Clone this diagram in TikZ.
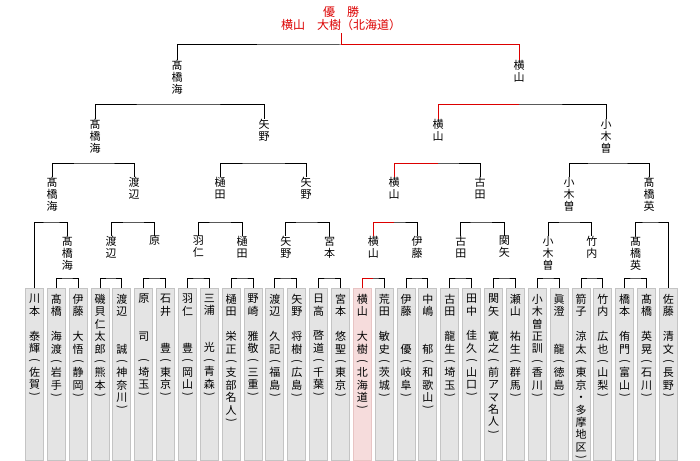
\documentclass[tikz,border=0pt]{standalone}
\usepackage{graphicx}
\usepackage{fontspec}
\setmainfont{Noto Sans CJK JP}
\usetikzlibrary{positioning}
\definecolor{winred}{RGB}{220,0,0}
\definecolor{boxfill}{RGB}{228,228,228}
\definecolor{boxline}{RGB}{196,196,196}
\definecolor{winfill}{RGB}{246,220,220}
\definecolor{winline}{RGB}{232,196,196}
\newcommand{\po}{\\[-1pt]\rotatebox[origin=c]{-90}{(}\\}
\newcommand{\pc}{\\[-3pt]\rotatebox[origin=c]{-90}{)}}

\begin{document}
\begin{tikzpicture}[x=1pt,y=-1pt,
    every node/.style={inner sep=0pt},
    player/.style={draw=boxline, fill=boxfill, line width=1pt, minimum width=18pt,
      minimum height=172pt, anchor=north},
    winner/.style={player, draw=winline, fill=winfill},
    vname/.style={align=center, font=\fontsize{11}{12.4}\selectfont},
    lbl/.style={align=center, anchor=north, font=\fontsize{11}{12}\selectfont},
    line/.style={line width=1pt},
    redline/.style={line width=1pt, draw=winred}]
  \useasboundingbox (0,0) rectangle (700,460);
  \coordinate (lv0) at (0,45);  \coordinate (lv4) at (0,104);
  \coordinate (lv3) at (0,163); \coordinate (lv2) at (0,222);
  \coordinate (lv1) at (0,278);

  % players
  \foreach \i/\s/\t in {
      0/player/{川\\本\\　\\泰\\輝\po 佐\\賀\pc},
      1/player/{髙\\橋\\　\\海\\渡\po 岩\\手\pc},
      2/player/{伊\\藤\\　\\大\\悟\po 静\\岡\pc},
      3/player/{磯\\貝\\仁\\太\\郎\po 熊\\本\pc},
      4/player/{渡\\辺\\　\\　\\誠\po 神\\奈\\川\pc},
      5/player/{原\\　\\　\\司\\　\po 埼\\玉\pc},
      6/player/{石\\井\\　\\　\\豊\po 東\\京\pc},
      7/player/{羽\\仁\\　\\　\\豊\po 岡\\山\pc},
      8/player/{三\\浦\\　\\　\\光\po 青\\森\pc},
      9/player/{樋\\田\\　\\栄\\正\po 支\\部\\名\\人\pc},
      10/player/{野\\崎\\　\\雅\\敬\po 三\\重\pc},
      11/player/{渡\\辺\\　\\久\\記\po 福\\島\pc},
      12/player/{矢\\野\\　\\将\\樹\po 広\\島\pc},
      13/player/{日\\高\\　\\啓\\道\po 千\\葉\pc},
      14/player/{宮\\本\\　\\悠\\聖\po 東\\京\pc},
      15/winner/{横\\山\\　\\大\\樹\po 北\\海\\道\pc},
      16/player/{荒\\田\\　\\敏\\史\po 茨\\城\pc},
      17/player/{伊\\藤\\　\\　\\優\po 岐\\阜\pc},
      18/player/{中\\嶋\\　\\　\\郁\po 和\\歌\\山\pc},
      19/player/{古\\田\\　\\龍\\生\po 埼\\玉\pc},
      20/player/{田\\中\\　\\佳\\久\po 山\\口\pc},
      21/player/{関\\矢\\　\\寛\\之\po 前\\ア\\マ\\名\\人\pc},
      22/player/{瀬\\山\\　\\祐\\生\po 群\\馬\pc},
      23/player/{小\\木\\曽\\正\\訓\po 香\\川\pc},
      24/player/{眞\\澄\\　\\　\\龍\po 徳\\島\pc},
      25/player/{箭\\子\\　\\涼\\太\po 東\\京\\・\\多\\摩\\地\\区\pc},
      26/player/{竹\\内\\　\\広\\也\po 山\\梨\pc},
      27/player/{橋\\本\\　\\侑\\門\po 富\\山\pc},
      28/player/{髙\\橋\\　\\英\\晃\po 石\\川\pc},
      29/player/{佐\\藤\\　\\清\\文\po 長\\野\pc}}
  {
    \node[\s] (b\i) at (34.5+21.86*\i,288) {};
    \node[vname, below=6pt of b\i.north] (n\i) {\t};
  }

  % first round winners
  \foreach \m/\i/\t in {a/1/{髙\\橋\\海}, b/3/{渡\\辺}, c/5/{原}, d/7/{羽\\仁},
      e/9/{樋\\田}, f/11/{矢\\野}, g/13/{宮\\本}, h/15/{横\\山}, i/17/{伊\\藤},
      j/19/{古\\田}, k/21/{関\\矢}, l/23/{小\\木\\曽}, m/25/{竹\\内}, n/27/{髙\\橋\\英}}
    \node[lbl] (r1\m) at (45.43+21.86*\i,236) {\t};

  % later rounds
  \node[lbl] (r2a) at (52,177) {髙\\橋\\海};
  \node[lbl] (r2b) at (134,177) {渡\\辺};
  \node[lbl] (r2c) at (220,177) {樋\\田};
  \node[lbl] (r2d) at (306,177) {矢\\野};
  \node[lbl] (r2e) at (394,177) {横\\山};
  \node[lbl] (r2f) at (480,177) {古\\田};
  \node[lbl] (r2g) at (569,177) {小\\木\\曽};
  \node[lbl] (r2h) at (649,177) {髙\\橋\\英};
  \node[lbl] (r3a) at (95,119) {髙\\橋\\海};
  \node[lbl] (r3b) at (264,119) {矢\\野};
  \node[lbl] (r3c) at (438,119) {横\\山};
  \node[lbl] (r3d) at (606,119) {小\\木\\曽};
  \node[lbl] (r4a) at (177,60) {髙\\橋\\海};
  \node[lbl] (r4b) at (519,60) {横\\山};
  \node[align=center, anchor=north, text=winred, font=\fontsize{12}{13}\selectfont]
    (win) at (341,6) {優　勝\\横山　大樹（北海道）};

  % brackets
  \foreach \a/\b/\m in {1/2/a, 3/4/b, 5/6/c, 7/8/d, 9/10/e, 11/12/f, 13/14/g,
      15/16/h, 17/18/i, 19/20/j, 21/22/k, 23/24/l, 25/26/m, 27/28/n}
    \draw[line] (b\a.north) |- (r1\m |- lv1) -| (b\b.north);
  \draw[line] (b0.north) |- (r2a |- lv2) -| (r1a.north);
  \draw[line] (r1b.north) |- (r2b |- lv2) -| (r1c.north);
  \draw[line] (r1d.north) |- (r2c |- lv2) -| (r1e.north);
  \draw[line] (r1f.north) |- (r2d |- lv2) -| (r1g.north);
  \draw[line] (r1h.north) |- (r2e |- lv2) -| (r1i.north);
  \draw[line] (r1j.north) |- (r2f |- lv2) -| (r1k.north);
  \draw[line] (r1l.north) |- (r2g |- lv2) -| (r1m.north);
  \draw[line] (r1n.north) |- (r2h |- lv2) -| (b29.north);
  \draw[line] (r2a.north) |- (r3a |- lv3) -| (r2b.north);
  \draw[line] (r2c.north) |- (r3b |- lv3) -| (r2d.north);
  \draw[line] (r2e.north) |- (r3c |- lv3) -| (r2f.north);
  \draw[line] (r2g.north) |- (r3d |- lv3) -| (r2h.north);
  \draw[line] (r3a.north) |- (r4a |- lv4) -| (r3b.north);
  \draw[line] (r3c.north) |- (r4b |- lv4) -| (r3d.north);
  \draw[line] (r4a.north) |- (win |- lv0) -| (r4b.north);

  % winner's path
  \draw[redline] (b15.north) |- (r1h |- lv1);
  \draw[redline] (r1h.north) |- (r2e |- lv2);
  \draw[redline] (r2e.north) |- (r3c |- lv3);
  \draw[redline] (r3c.north) |- (r4b |- lv4);
  \draw[redline] (r4b.north) |- (win |- lv0) -- ([yshift=-2pt]win.south);
\end{tikzpicture}
\end{document}
